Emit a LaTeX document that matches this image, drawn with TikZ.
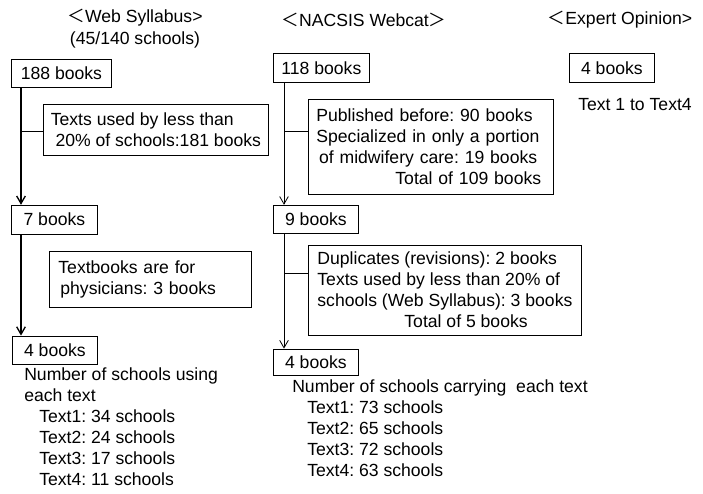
\documentclass[tikz,border=0pt]{standalone}
\usepackage{fontspec}
\setmainfont{Liberation Sans}
\newfontfamily\cjk{Noto Sans CJK JP}
\usetikzlibrary{arrows.meta,positioning}
\frenchspacing

\begin{document}
\begin{tikzpicture}[>={Straight Barb[angle=60:6.5pt]},font=\fontsize{13.2pt}{15.75pt}\selectfont]
  \tikzstyle{box}=[draw,line width=0.6pt,inner xsep=3pt,inner ysep=2pt,align=left,anchor=north west]
  \tikzstyle{note}=[inner sep=0pt,align=left,anchor=north west]
  \tikzstyle{title}=[inner sep=0pt,align=center,font=\fontsize{13.2pt}{16.5pt}\selectfont]
  \tikzstyle{thick flow}=[line width=1pt]
  \tikzstyle{thin flow}=[line width=0.6pt]
  \useasboundingbox (0,0) rectangle (527.25pt,-369.75pt);

  % column titles
  \node[title] (tweb) at (101.25pt,-21.75pt) {{\cjk ＜}Web Syllabus>\\(45/140 schools)};
  \node[title] (tnac) at (273pt,-15pt) {{\cjk ＜}NACSIS Webcat{\cjk ＞}};
  \node[title] (texp) at (465pt,-15pt) {{\cjk ＜}Expert Opinion>};

  % Web Syllabus
  \node[box,minimum width=75pt,minimum height=21pt] (L188) at (8.25pt,-44.25pt) {188 books};
  \node[box,minimum width=168.75pt,minimum height=38.25pt] (Lf1) [below right=12pt and 24pt of L188.south west]
    {Texts used by less than\\\hspace*{3.5pt}20\% of schools:181 books};
  \node[box,minimum width=64.5pt,minimum height=21.75pt] (L7) [below=87.75pt of L188.south west,anchor=north west] {7 books};
  \node[box,inner xsep=6.75pt,text width=138pt,minimum height=42pt] (Lf2) [below right=12pt and 28.5pt of L7.south west]
    {Textbooks are for\\\hspace*{1.5pt}physicians: 3 books};
  \node[box,minimum width=63.75pt,minimum height=21pt] (L4) [below right=75.75pt and 0.75pt of L7.south west] {4 books};
  \node[note] (Lcount) [below right=2pt and 9pt of L4.south west]
    {Number of schools using\\each text\\
     \hspace*{11.25pt}Text1: 34 schools\\
     \hspace*{11.25pt}Text2: 24 schools\\
     \hspace*{11.25pt}Text3: 17 schools\\
     \hspace*{11.25pt}Text4: 11 schools};

  \coordinate[right=7.5pt of L188.south west] (Lv);
  \coordinate[below=21pt of Lf1.north west] (Lb1);
  \draw[thick flow,->] (Lv) -- (Lv |- L7.north);
  \draw[thick flow] (Lv |- Lb1) -- (Lb1);
  \draw[thick flow,->] (Lv |- L7.south) -- (Lv |- L4.north);

  % NACSIS Webcat
  \node[box,minimum width=72pt,minimum height=21.75pt] (M118) at (204.75pt,-39.75pt) {118 books};
  \node[box,inner xsep=6pt,text width=171.75pt,minimum height=71.25pt] (Mf1) [below right=12pt and 26.25pt of M118.south west]
    {Published before: 90 books\\
     Specialized in only a portion\\
     \hspace*{2pt}of midwifery care: 19 books\\
     \hspace*{59.25pt}Total of 109 books};
  \node[box,minimum width=63.75pt,minimum height=21pt] (M9) [below=91.5pt of M118.south west,anchor=north west] {9 books};
  \node[box,minimum width=204.75pt,minimum height=67.5pt] (Mf2) [below right=8.25pt and 26.25pt of M9.south west]
    {Duplicates (revisions): 2 books\\
     Texts used by less than 20\% of\\
     schools (Web Syllabus): 3 books\\
     \hspace*{65.25pt}Total of 5 books};
  \node[box,minimum width=63.75pt,minimum height=19.5pt] (M4) [below=86.25pt of M9.south west,anchor=north west] {4 books};
  \node[note] (Mcount) [below right=3pt and 14.25pt of M4.south west]
    {Number of schools carrying~ each text\\
     \hspace*{11.25pt}Text1: 73 schools\\
     \hspace*{11.25pt}Text2: 65 schools\\
     \hspace*{11.25pt}Text3: 72 schools\\
     \hspace*{11.25pt}Text4: 63 schools};

  \coordinate[right=8.25pt of M118.south west] (Mv);
  \coordinate[below=24.75pt of Mf1.north west] (Mb1);
  \coordinate[below=21.75pt of Mf2.north west] (Mb2);
  \draw[thin flow,->] (Mv) -- (Mv |- M9.north);
  \draw[thin flow] (Mv |- Mb1) -- (Mb1);
  \draw[thin flow,->] (Mv |- M9.south) -- (Mv |- M4.north);
  \draw[thin flow] (Mv |- Mb2) -- (Mb2);

  % Expert Opinion
  \node[box,minimum width=63.75pt,minimum height=21.75pt] (E4) at (426.75pt,-39.75pt) {4 books};
  \node[note] (Erange) [below right=11.25pt and 6.75pt of E4.south west] {Text 1 to Text4};
\end{tikzpicture}
\end{document}
